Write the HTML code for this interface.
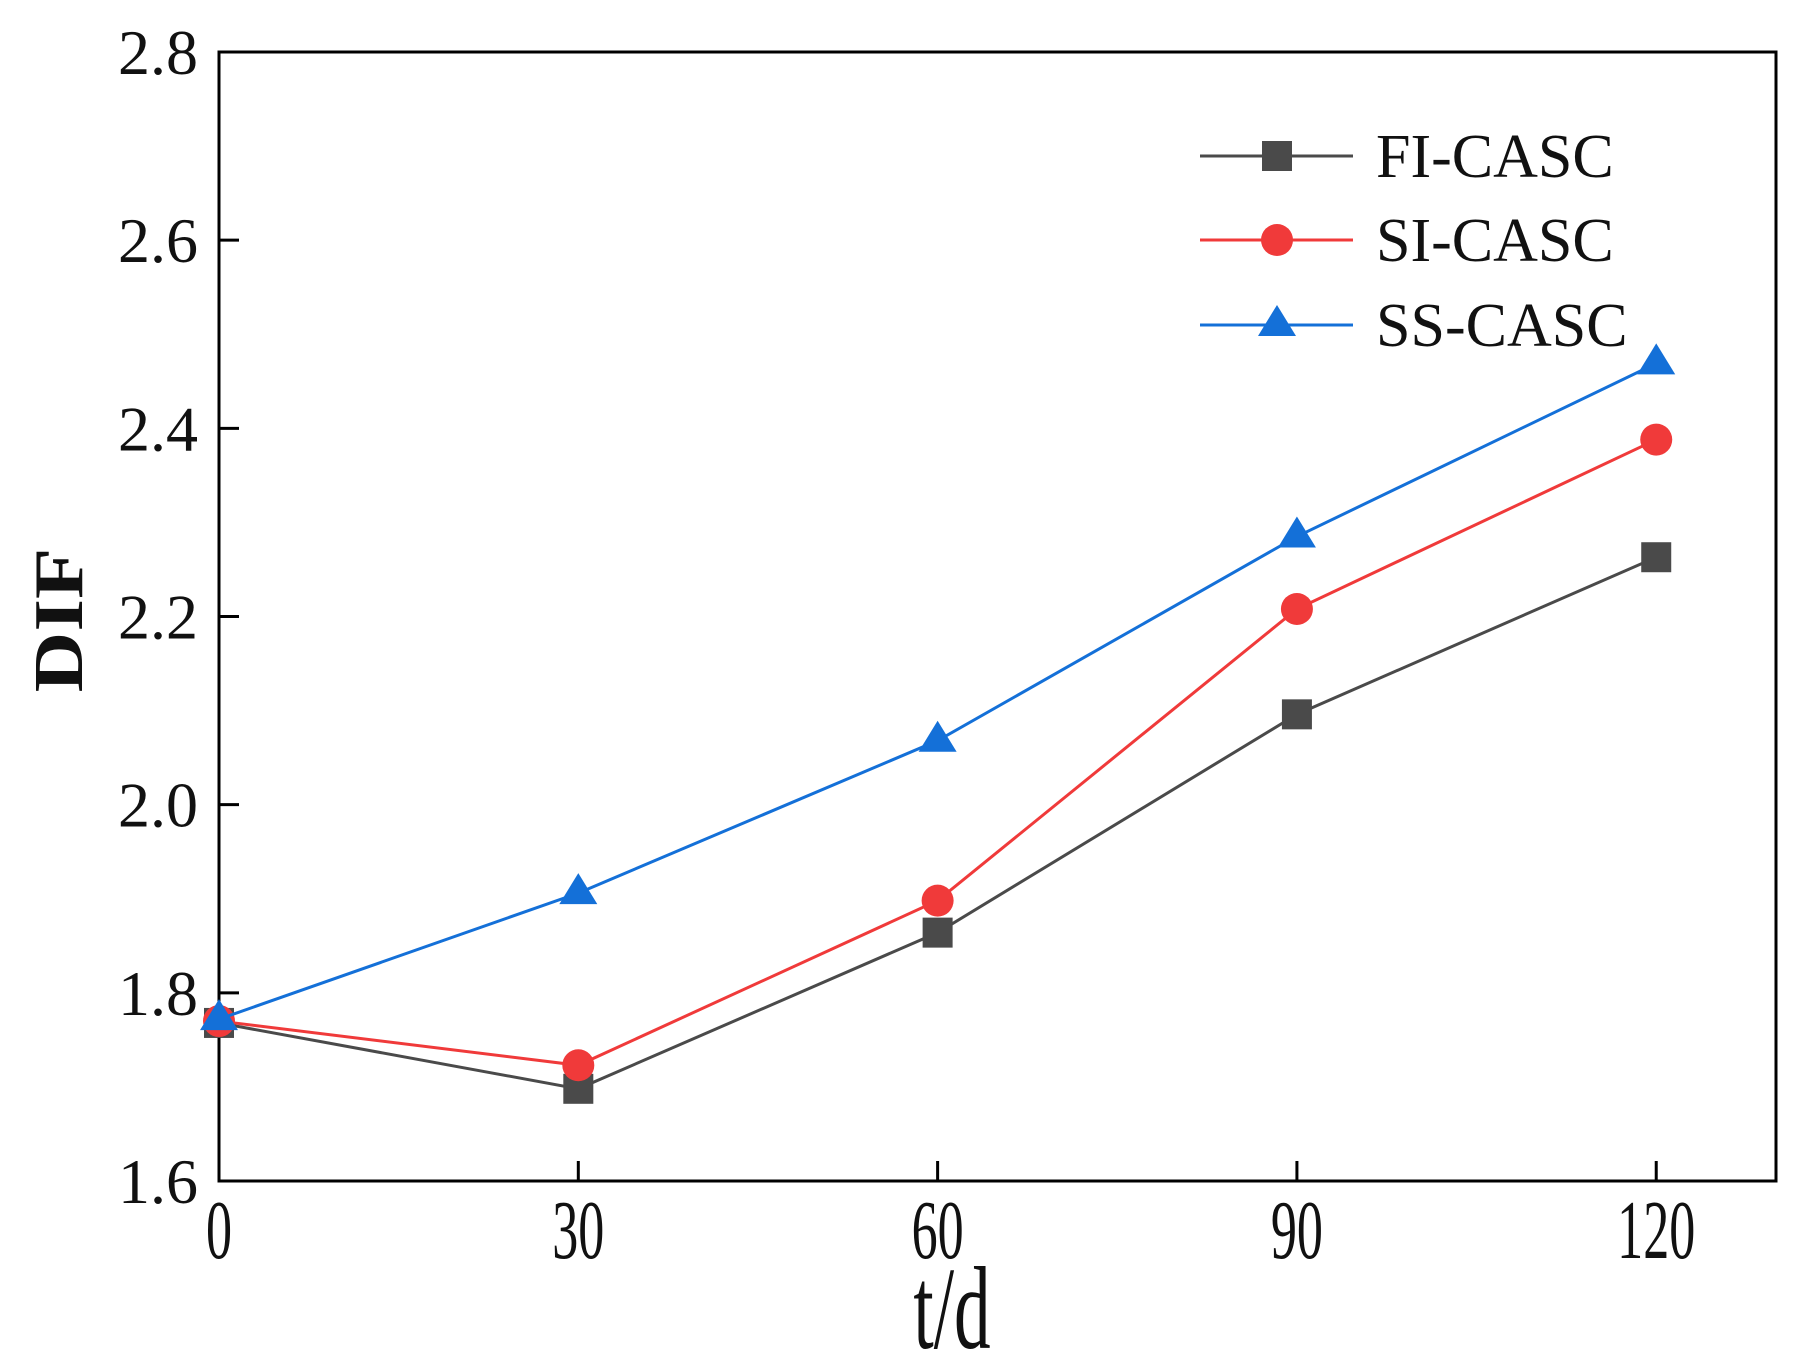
<!DOCTYPE html>
<html><head><meta charset="utf-8"><style>
html,body{margin:0;padding:0;background:#fff;}
svg{display:block;}
text{font-family:"Liberation Serif",serif;fill:#111;}
</style></head><body>
<svg id="chart" width="1800" height="1371" viewBox="0 0 1800 1371">
<rect x="219" y="52" width="1557" height="1129" fill="none" stroke="#000" stroke-width="3"/>
<g id="axes"></g>
<g id="series"></g>
<text x="0" y="0" transform="translate(82,620) rotate(-90) scale(1.2,1)" text-anchor="middle" font-size="70" font-weight="bold">DIF</text>
<text x="0" y="0" transform="translate(952,1348) scale(0.62,1)" text-anchor="middle" font-size="118">t/d</text>
<g>
 <g>
  <line x1="1200" y1="156" x2="1353" y2="156" stroke="#4a4a4a" stroke-width="3"/>
  <rect x="1262" y="141" width="30" height="30" fill="#4a4a4a"/>
  <text x="1376" y="177" font-size="62">FI-CASC</text>
 </g>
 <g>
  <line x1="1200" y1="240" x2="1353" y2="240" stroke="#f03a3a" stroke-width="3"/>
  <circle cx="1277" cy="240" r="16" fill="#f03a3a"/>
  <text x="1376" y="261" font-size="62">SI-CASC</text>
 </g>
 <g>
  <line x1="1200" y1="325" x2="1353" y2="325" stroke="#1470d8" stroke-width="3"/>
  <polygon points="1277,305 1296,336 1258,336" fill="#1470d8"/>
  <text x="1376" y="346" font-size="62">SS-CASC</text>
 </g>
</g>
</svg>
<script>
const categories = [0, 30, 60, 90, 120];
const fiValues = [1.768, 1.698, 1.864, 2.096, 2.263];
const siValues = [1.770, 1.723, 1.898, 2.208, 2.388];
const ssValues = [1.772, 1.906, 2.068, 2.285, 2.469];
const yTicks = ["1.6","1.8","2.0","2.2","2.4","2.6","2.8"];
const xTicks = ["0","30","60","90","120"];

const NS = "http://www.w3.org/2000/svg";
const X0=219, X1=1776, Y0=1181, Y1=52;
const xMin=0, xMax=130, yMin=1.6, yMax=2.8;
function xs(v){return X0+(v-xMin)/(xMax-xMin)*(X1-X0);}
function ys(v){return Y0-(v-yMin)/(yMax-yMin)*(Y0-Y1);}
function mk(tag, attrs, parent){const e=document.createElementNS(NS,tag);for(const k in attrs)e.setAttribute(k,attrs[k]);parent.appendChild(e);return e;}
const axes=document.getElementById('axes');
yTicks.forEach(t=>{
  const y=ys(parseFloat(t));
  const l=mk('line',{x1:X0,y1:y,x2:X0+20,y2:y,stroke:'#000','stroke-width':3},axes);
  
  
  const tx=mk('text',{x:198,y:y+22,'text-anchor':'end','font-size':64},axes);
  tx.textContent=t;
  
  
});
xTicks.forEach(t=>{
  const x=xs(parseFloat(t));
  const l=mk('line',{x1:x,y1:Y0,x2:x,y2:Y0-20,stroke:'#000','stroke-width':3},axes);
  
  
  const tx=mk('text',{transform:`translate(${x},${1258}) scale(0.62,1)`,'text-anchor':'middle','font-size':84},axes);
  tx.textContent=t;
  
  
});
const sg=document.getElementById('series');
function drawSeries(vals,color,shape,name){
  const g=mk('g',{},sg);
  
  
  const pts=vals.map((v,i)=>xs(categories[i])+','+ys(v)).join(' ');
  const pl=mk('polyline',{points:pts,fill:'none',stroke:color,'stroke-width':3},g);
  
  
  vals.forEach((v,i)=>{
    const x=xs(categories[i]), y=ys(v); let m;
    if(shape==='square') m=mk('rect',{x:x-15,y:y-15,width:30,height:30,fill:color},g);
    else if(shape==='circle') m=mk('circle',{cx:x,cy:y,r:16,fill:color},g);
    else m=mk('polygon',{points:`${x},${y-20} ${x+19},${y+11} ${x-19},${y+11}`,fill:color},g);
    
    
  });
}
drawSeries(fiValues,'#4a4a4a','square','fi-casc-series');
drawSeries(siValues,'#f03a3a','circle','si-casc-series');
drawSeries(ssValues,'#1470d8','triangle','ss-casc-series');
</script>
</body></html>
